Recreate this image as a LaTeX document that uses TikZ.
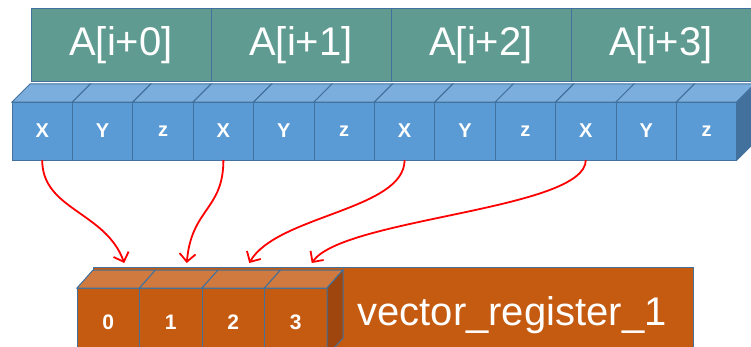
\documentclass[tikz,border=0pt]{standalone}
\usepackage{fontspec}
\setmainfont{Liberation Sans}
\usetikzlibrary{calc,arrows.meta,positioning}

\definecolor{cellgreen}{HTML}{5F9B91}
\definecolor{edgeblue}{HTML}{41719C}
\definecolor{cubeblue}{HTML}{5B9BD5}
\definecolor{cubebluetop}{HTML}{7BAEDD}
\definecolor{cubeblueside}{HTML}{41719C}
\definecolor{regorange}{HTML}{C55A11}
\definecolor{regorangetop}{HTML}{D07A3F}
\definecolor{regorangeside}{HTML}{9E460D}

\tikzset{
  elem/.style={draw=edgeblue, fill=cellgreen, line width=1pt, outer sep=0pt, inner sep=0pt,
    minimum width=180pt, minimum height=73pt, text=white, font=\fontsize{40}{44}\selectfont},
  comp/.style={draw=edgeblue, fill=cubeblue, line width=1pt, outer sep=0pt, inner sep=0pt,
    minimum width=60.4pt, minimum height=58pt, text=white, font=\bfseries\fontsize{20}{22}\selectfont},
  lane/.style={draw=edgeblue, fill=regorange, line width=1pt, outer sep=0pt, inner sep=0pt,
    minimum width=62.5pt, minimum height=68pt, text=white, font=\bfseries\fontsize{21}{24}\selectfont},
  feed/.style={red, line width=1.8pt, -{Straight Barb[length=8pt,width=16pt]}},
}

\begin{document}
\begin{tikzpicture}[x=1pt,y=1pt]
  \useasboundingbox (0,0) rectangle (751,346);
  \clip (0,0) rectangle (751,346);

  % array elements
  \node[elem, anchor=south west] (a0) at (31,264) {A[i+0]};
  \node[elem, right=0pt of a0] (a1) {A[i+1]};
  \node[elem, right=0pt of a1] (a2) {A[i+2]};
  \node[elem, right=0pt of a2] (a3) {A[i+3]};

  % x y z components of each element
  \foreach \t [count=\i from 0] in {X,Y,z,X,Y,z,X,Y,z,X,Y,z}
    \node[comp, anchor=south west] (b\i) at ({12+60.4*\i},186) {\t};
  \foreach \i in {0,...,11}
    \filldraw[draw=edgeblue, fill=cubebluetop, line width=1pt]
      (b\i.north west) -- ++(18,18) -- ++(60.4,0) -- (b\i.north east) -- cycle;
  \filldraw[draw=edgeblue, fill=cubeblueside, line width=1pt]
    (b11.north east) -- ++(18,18) -- ++(0,-58) -- (b11.south east) -- cycle;

  % the register
  \node[draw=edgeblue, fill=regorange, line width=1pt, minimum width=600pt, minimum height=88pt,
    anchor=south west, inner sep=0pt] (reg) at (93,-10) {};
  \node[text=white, font=\fontsize{40}{44}\selectfont] (regname) at (512,31) {vector\_register\_1};
  \foreach \i in {0,...,3}
    \node[lane, anchor=south west] (r\i) at ({77+62.5*\i},-10) {\i};
  \foreach \i in {0,...,3}
    \filldraw[draw=edgeblue, fill=regorangetop, line width=1pt]
      (r\i.north west) -- ++(16,18) -- ++(62.5,0) -- (r\i.north east) -- cycle;
  \filldraw[draw=edgeblue, fill=regorangeside, line width=1pt]
    (r3.north east) -- ++(16,18) -- ++(0,-68) -- (r3.south east) -- cycle;

  % gather the X components
  \foreach \s/\d/\a in {0/0/110, 3/1/85, 6/2/60, 9/3/55}
    \draw[feed] (b\s.south) to[out=-90, in=\a, out distance=50pt, in distance=55pt]
      ($(r\d.north)+(16,25)$);
\end{tikzpicture}
\end{document}
